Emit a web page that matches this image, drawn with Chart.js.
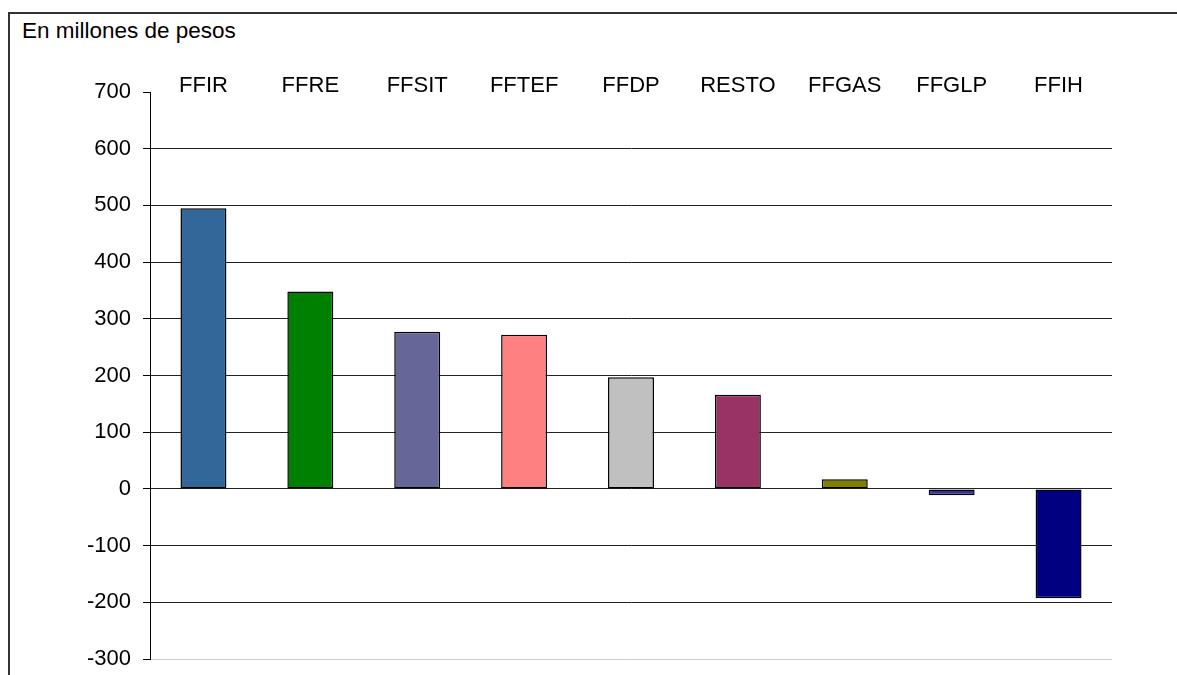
<!DOCTYPE html>
<html>
<head>
<meta charset="utf-8">
<script src="https://cdn.jsdelivr.net/npm/chart.js@4"></script>
<style>
  body { margin: 0; background: #fff; }
  #frame { position: absolute; left: 8px; top: 12px; width: 1200px; height: 700px; border: 2px solid #333; box-sizing: border-box; }
  #unit { position: absolute; left: 22px; top: 18px; font: 22.5px "Liberation Sans", Arial, sans-serif; color: #000; }
  canvas { position: absolute; left: 0; top: 0; }
</style>
</head>
<body>
<div id="frame"></div>
<div id="unit">En millones de pesos</div>
<canvas id="newChart" width="1177" height="675"></canvas>
<script>
const categories = ['FFIR', 'FFRE', 'FFSIT', 'FFTEF', 'FFDP', 'RESTO', 'FFGAS', 'FFGLP', 'FFIH'];
const values = [495, 348, 277, 272, 197, 166, 17, -11, -193];
const barColors = ['#336699', '#008000', '#666699', '#FF8080', '#C0C0C0', '#993366', '#808000', '#333399', '#000080'];
const yTicks = [700, 600, 500, 400, 300, 200, 100, 0, -100, -200, -300];

const font = { family: '"Liberation Sans", Arial, sans-serif', size: 22 };

const newctx = document.getElementById('newChart');

new Chart(newctx, {
  type: 'bar',
  data: {
    labels: categories,
    datasets: [{
      data: values,
      backgroundColor: barColors,
      borderColor: '#000',
      borderWidth: 1.5,
      borderSkipped: false,
      barPercentage: 0.43,
      categoryPercentage: 1
    }]
  },
  options: {
    responsive: false,
    animation: false,
    layout: { padding: { top: 0, right: 65, bottom: 16, left: 0 } },
    plugins: {
      legend: { display: false },
      tooltip: { enabled: false }
    },
    scales: {
      x: {
        position: 'top',
        grid: { display: false, drawTicks: false },
        border: { display: false },
        ticks: { color: '#000', font: font, padding: -7, maxRotation: 0 },
        afterFit: (scale) => { scale.height = 92; }
      },
      y: {
        min: yTicks[yTicks.length - 1],
        max: yTicks[0],
        afterBuildTicks: (scale) => { scale.ticks = yTicks.map(v => ({ value: v })); },
        ticks: { color: '#000', font: font, padding: 12 },
        grid: {
          color: (ctx) => ctx.tick && ctx.tick.value === 700 ? 'rgba(0,0,0,0)' : (ctx.tick && ctx.tick.value === -300 ? '#ccc' : '#222'),
          tickColor: '#000',
          tickLength: 7
        },
        border: { display: true, color: '#000', width: 1 },
        afterFit: (scale) => {
          scale.width = 150;
          scale.paddingTop = 0;
          scale.paddingBottom = 0;
        }
      }
    }
  }
});
</script>
</body>
</html>
